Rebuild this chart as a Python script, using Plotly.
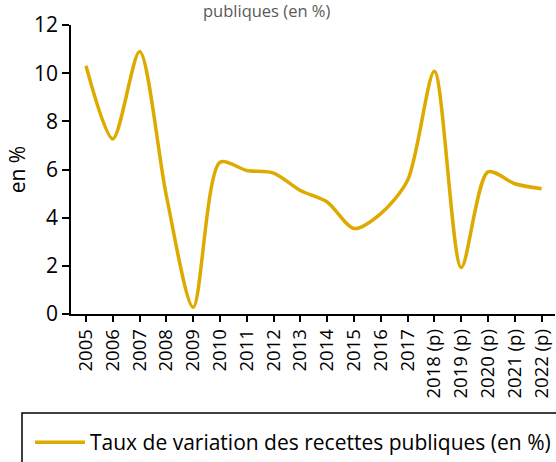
import plotly.graph_objects as go

years = ["2005", "2006", "2007", "2008", "2009", "2010", "2011", "2012", "2013",
         "2014", "2015", "2016", "2017", "2018 (p)", "2019 (p)", "2020 (p)",
         "2021 (p)", "2022 (p)"]
taux = [10.31, 7.27, 10.9, 4.9, 0.28, 6.3, 5.96, 5.85, 5.13,
        4.65, 3.55, 4.17, 5.55, 10.08, 1.93, 5.9, 5.41, 5.2]
series_name = "Taux de variation des recettes publiques (en %)"
y_ticks = [0, 2, 4, 6, 8, 10, 12]

W, H = 556, 462
L, R, T, B = 71, 1, 25, 148
pw, ph = W - L - R, H - T - B

def px_x(p):
    return (p - L) / pw

def px_y(p):
    return (H - B - p) / ph

FONT = "Open Sans"

fig = go.Figure()
fig.add_trace(go.Scatter(
    x=list(range(len(years))), y=taux, mode="lines",
    line=dict(color="#DDAA00", width=3.5, shape="spline", smoothing=0.8),
    name=series_name, showlegend=True,
))

fig.update_layout(
    width=W, height=H,
    margin=dict(l=L, r=R, t=T, b=B, autoexpand=False),
    plot_bgcolor="white", paper_bgcolor="white",
    font=dict(family=FONT, color="black"),
    xaxis=dict(
        range=[-0.56, 17.5], tickmode="array",
        tickvals=list(range(len(years))), ticktext=years,
        tickangle=-90, ticks="outside", ticklen=6, tickwidth=1.5, tickcolor="black",
        showline=True, linecolor="black", linewidth=1.5,
        showgrid=False, zeroline=False, automargin=False,
        tickfont=dict(size=18.5, family=FONT, color="black"),
    ),
    yaxis=dict(
        range=[0, 12], tickvals=y_ticks,
        ticks="outside", ticklen=7, tickwidth=1.5, tickcolor="black",
        showline=True, linecolor="black", linewidth=1.5,
        showgrid=False, zeroline=False, automargin=False,
        tickfont=dict(size=21, family=FONT, color="black"),
        title=dict(text="en %", font=dict(size=21, family=FONT, color="black"), standoff=3),
    ),
    legend=dict(
        x=px_x(30), y=px_y(422), xanchor="left", yanchor="top",
        bgcolor="rgba(0,0,0,0)", borderwidth=0,
        font=dict(size=21, family=FONT, color="black"),
        itemwidth=50,
    ),
    shapes=[dict(
        type="rect", xref="paper", yref="paper",
        x0=px_x(22), x1=px_x(570), y0=px_y(475), y1=px_y(413),
        line=dict(color="black", width=1.5), fillcolor="rgba(0,0,0,0)",
    )],
    annotations=[dict(
        text="publiques (en %)", xref="paper", yref="paper",
        x=px_x(266.5), y=px_y(11), xanchor="center", yanchor="middle",
        showarrow=False, font=dict(size=16.5, family=FONT, color="#595959"),
    )],
)

fig.write_html("out.html", config={"displayModeBar": False},
               post_script="document.body.style.margin='0';")
